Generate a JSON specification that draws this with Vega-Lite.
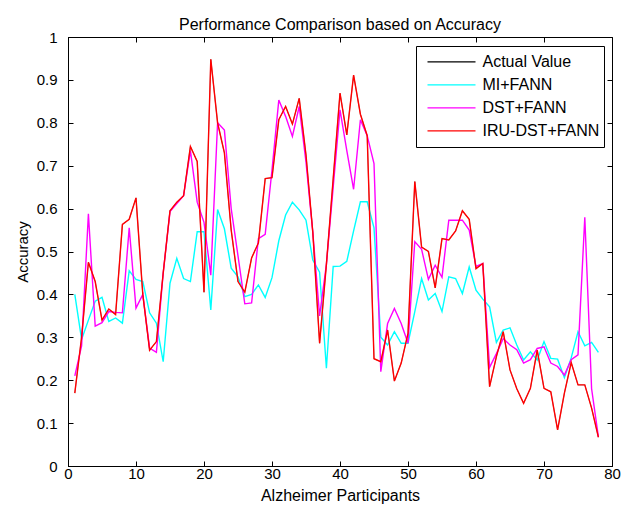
{
"$schema": "https://vega.github.io/schema/vega-lite/v6.json",
"width": 544, "height": 429,
"autosize": "none",
"padding": {"left": 68, "top": 37, "right": 17, "bottom": 44},
"background": "white",
"config": {"view": {"stroke": "black", "strokeWidth": 1}, "font": "Liberation Sans"},
"title": {"text": "Performance Comparison based on Accuracy", "fontSize": 16, "fontWeight": "normal", "font": "Liberation Sans", "color": "black", "anchor": "middle", "baseline": "alphabetic", "offset": 8, "dy": 24},
"data": {"values": [
{"x":1,"s":"Actual Value","y":0.17},{"x":2,"s":"Actual Value","y":0.30},{"x":3,"s":"Actual Value","y":0.475},{"x":4,"s":"Actual Value","y":0.43},{"x":5,"s":"Actual Value","y":0.34},{"x":6,"s":"Actual Value","y":0.366},{"x":7,"s":"Actual Value","y":0.353},{"x":8,"s":"Actual Value","y":0.563},{"x":9,"s":"Actual Value","y":0.575},{"x":10,"s":"Actual Value","y":0.625},
{"x":11,"s":"Actual Value","y":0.40},{"x":12,"s":"Actual Value","y":0.27},{"x":13,"s":"Actual Value","y":0.29},{"x":14,"s":"Actual Value","y":0.45},{"x":15,"s":"Actual Value","y":0.595},{"x":16,"s":"Actual Value","y":0.615},{"x":17,"s":"Actual Value","y":0.63},{"x":18,"s":"Actual Value","y":0.745},{"x":19,"s":"Actual Value","y":0.71},{"x":20,"s":"Actual Value","y":0.405},
{"x":21,"s":"Actual Value","y":0.948},{"x":22,"s":"Actual Value","y":0.80},{"x":23,"s":"Actual Value","y":0.73},{"x":24,"s":"Actual Value","y":0.55},{"x":25,"s":"Actual Value","y":0.43},{"x":26,"s":"Actual Value","y":0.405},{"x":27,"s":"Actual Value","y":0.485},{"x":28,"s":"Actual Value","y":0.52},{"x":29,"s":"Actual Value","y":0.67},{"x":30,"s":"Actual Value","y":0.672},
{"x":31,"s":"Actual Value","y":0.807},{"x":32,"s":"Actual Value","y":0.838},{"x":33,"s":"Actual Value","y":0.797},{"x":34,"s":"Actual Value","y":0.857},{"x":35,"s":"Actual Value","y":0.725},{"x":36,"s":"Actual Value","y":0.545},{"x":37,"s":"Actual Value","y":0.286},{"x":38,"s":"Actual Value","y":0.47},{"x":39,"s":"Actual Value","y":0.67},{"x":40,"s":"Actual Value","y":0.869},
{"x":41,"s":"Actual Value","y":0.772},{"x":42,"s":"Actual Value","y":0.911},{"x":43,"s":"Actual Value","y":0.82},{"x":44,"s":"Actual Value","y":0.77},{"x":45,"s":"Actual Value","y":0.25},{"x":46,"s":"Actual Value","y":0.243},{"x":47,"s":"Actual Value","y":0.317},{"x":48,"s":"Actual Value","y":0.198},{"x":49,"s":"Actual Value","y":0.24},{"x":50,"s":"Actual Value","y":0.309},
{"x":51,"s":"Actual Value","y":0.663},{"x":52,"s":"Actual Value","y":0.51},{"x":53,"s":"Actual Value","y":0.50},{"x":54,"s":"Actual Value","y":0.415},{"x":55,"s":"Actual Value","y":0.53},{"x":56,"s":"Actual Value","y":0.527},{"x":57,"s":"Actual Value","y":0.548},{"x":58,"s":"Actual Value","y":0.595},{"x":59,"s":"Actual Value","y":0.575},{"x":60,"s":"Actual Value","y":0.46},
{"x":61,"s":"Actual Value","y":0.472},{"x":62,"s":"Actual Value","y":0.185},{"x":63,"s":"Actual Value","y":0.255},{"x":64,"s":"Actual Value","y":0.313},{"x":65,"s":"Actual Value","y":0.224},{"x":66,"s":"Actual Value","y":0.18},{"x":67,"s":"Actual Value","y":0.146},{"x":68,"s":"Actual Value","y":0.181},{"x":69,"s":"Actual Value","y":0.27},{"x":70,"s":"Actual Value","y":0.181},
{"x":71,"s":"Actual Value","y":0.173},{"x":72,"s":"Actual Value","y":0.084},{"x":73,"s":"Actual Value","y":0.17},{"x":74,"s":"Actual Value","y":0.241},{"x":75,"s":"Actual Value","y":0.189},{"x":76,"s":"Actual Value","y":0.189},{"x":77,"s":"Actual Value","y":0.135},{"x":78,"s":"Actual Value","y":0.067},

{"x":1,"s":"MI+FANN","y":0.40},{"x":2,"s":"MI+FANN","y":0.295},{"x":3,"s":"MI+FANN","y":0.34},{"x":4,"s":"MI+FANN","y":0.384},{"x":5,"s":"MI+FANN","y":0.393},{"x":6,"s":"MI+FANN","y":0.337},{"x":7,"s":"MI+FANN","y":0.345},{"x":8,"s":"MI+FANN","y":0.333},{"x":9,"s":"MI+FANN","y":0.455},{"x":10,"s":"MI+FANN","y":0.435},
{"x":11,"s":"MI+FANN","y":0.43},{"x":12,"s":"MI+FANN","y":0.357},{"x":13,"s":"MI+FANN","y":0.333},{"x":14,"s":"MI+FANN","y":0.243},{"x":15,"s":"MI+FANN","y":0.426},{"x":16,"s":"MI+FANN","y":0.484},{"x":17,"s":"MI+FANN","y":0.437},{"x":18,"s":"MI+FANN","y":0.43},{"x":19,"s":"MI+FANN","y":0.546},{"x":20,"s":"MI+FANN","y":0.546},
{"x":21,"s":"MI+FANN","y":0.364},{"x":22,"s":"MI+FANN","y":0.598},{"x":23,"s":"MI+FANN","y":0.553},{"x":24,"s":"MI+FANN","y":0.461},{"x":25,"s":"MI+FANN","y":0.441},{"x":26,"s":"MI+FANN","y":0.395},{"x":27,"s":"MI+FANN","y":0.40},{"x":28,"s":"MI+FANN","y":0.422},{"x":29,"s":"MI+FANN","y":0.393},{"x":30,"s":"MI+FANN","y":0.439},
{"x":31,"s":"MI+FANN","y":0.525},{"x":32,"s":"MI+FANN","y":0.585},{"x":33,"s":"MI+FANN","y":0.615},{"x":34,"s":"MI+FANN","y":0.597},{"x":35,"s":"MI+FANN","y":0.573},{"x":36,"s":"MI+FANN","y":0.48},{"x":37,"s":"MI+FANN","y":0.452},{"x":38,"s":"MI+FANN","y":0.228},{"x":39,"s":"MI+FANN","y":0.465},{"x":40,"s":"MI+FANN","y":0.466},
{"x":41,"s":"MI+FANN","y":0.477},{"x":42,"s":"MI+FANN","y":0.548},{"x":43,"s":"MI+FANN","y":0.616},{"x":44,"s":"MI+FANN","y":0.616},{"x":45,"s":"MI+FANN","y":0.555},{"x":46,"s":"MI+FANN","y":0.30},{"x":47,"s":"MI+FANN","y":0.282},{"x":48,"s":"MI+FANN","y":0.313},{"x":49,"s":"MI+FANN","y":0.286},{"x":50,"s":"MI+FANN","y":0.286},
{"x":51,"s":"MI+FANN","y":0.36},{"x":52,"s":"MI+FANN","y":0.437},{"x":53,"s":"MI+FANN","y":0.387},{"x":54,"s":"MI+FANN","y":0.402},{"x":55,"s":"MI+FANN","y":0.36},{"x":56,"s":"MI+FANN","y":0.441},{"x":57,"s":"MI+FANN","y":0.437},{"x":58,"s":"MI+FANN","y":0.402},{"x":59,"s":"MI+FANN","y":0.464},{"x":60,"s":"MI+FANN","y":0.41},
{"x":61,"s":"MI+FANN","y":0.389},{"x":62,"s":"MI+FANN","y":0.371},{"x":63,"s":"MI+FANN","y":0.288},{"x":64,"s":"MI+FANN","y":0.317},{"x":65,"s":"MI+FANN","y":0.322},{"x":66,"s":"MI+FANN","y":0.282},{"x":67,"s":"MI+FANN","y":0.247},{"x":68,"s":"MI+FANN","y":0.266},{"x":69,"s":"MI+FANN","y":0.247},{"x":70,"s":"MI+FANN","y":0.29},
{"x":71,"s":"MI+FANN","y":0.251},{"x":72,"s":"MI+FANN","y":0.249},{"x":73,"s":"MI+FANN","y":0.206},{"x":74,"s":"MI+FANN","y":0.252},{"x":75,"s":"MI+FANN","y":0.313},{"x":76,"s":"MI+FANN","y":0.28},{"x":77,"s":"MI+FANN","y":0.288},{"x":78,"s":"MI+FANN","y":0.265},

{"x":1,"s":"DST+FANN","y":0.21},{"x":2,"s":"DST+FANN","y":0.28},{"x":3,"s":"DST+FANN","y":0.588},{"x":4,"s":"DST+FANN","y":0.326},{"x":5,"s":"DST+FANN","y":0.334},{"x":6,"s":"DST+FANN","y":0.36},{"x":7,"s":"DST+FANN","y":0.358},{"x":8,"s":"DST+FANN","y":0.357},{"x":9,"s":"DST+FANN","y":0.555},{"x":10,"s":"DST+FANN","y":0.368},
{"x":11,"s":"DST+FANN","y":0.40},{"x":12,"s":"DST+FANN","y":0.275},{"x":13,"s":"DST+FANN","y":0.265},{"x":14,"s":"DST+FANN","y":0.45},{"x":15,"s":"DST+FANN","y":0.593},{"x":16,"s":"DST+FANN","y":0.612},{"x":17,"s":"DST+FANN","y":0.63},{"x":18,"s":"DST+FANN","y":0.735},{"x":19,"s":"DST+FANN","y":0.615},{"x":20,"s":"DST+FANN","y":0.568},
{"x":21,"s":"DST+FANN","y":0.445},{"x":22,"s":"DST+FANN","y":0.80},{"x":23,"s":"DST+FANN","y":0.783},{"x":24,"s":"DST+FANN","y":0.60},{"x":25,"s":"DST+FANN","y":0.49},{"x":26,"s":"DST+FANN","y":0.378},{"x":27,"s":"DST+FANN","y":0.38},{"x":28,"s":"DST+FANN","y":0.53},{"x":29,"s":"DST+FANN","y":0.54},{"x":30,"s":"DST+FANN","y":0.69},
{"x":31,"s":"DST+FANN","y":0.853},{"x":32,"s":"DST+FANN","y":0.815},{"x":33,"s":"DST+FANN","y":0.768},{"x":34,"s":"DST+FANN","y":0.838},{"x":35,"s":"DST+FANN","y":0.708},{"x":36,"s":"DST+FANN","y":0.545},{"x":37,"s":"DST+FANN","y":0.35},{"x":38,"s":"DST+FANN","y":0.47},{"x":39,"s":"DST+FANN","y":0.65},{"x":40,"s":"DST+FANN","y":0.83},
{"x":41,"s":"DST+FANN","y":0.735},{"x":42,"s":"DST+FANN","y":0.645},{"x":43,"s":"DST+FANN","y":0.807},{"x":44,"s":"DST+FANN","y":0.77},{"x":45,"s":"DST+FANN","y":0.705},{"x":46,"s":"DST+FANN","y":0.22},{"x":47,"s":"DST+FANN","y":0.332},{"x":48,"s":"DST+FANN","y":0.367},{"x":49,"s":"DST+FANN","y":0.332},{"x":50,"s":"DST+FANN","y":0.286},
{"x":51,"s":"DST+FANN","y":0.523},{"x":52,"s":"DST+FANN","y":0.505},{"x":53,"s":"DST+FANN","y":0.435},{"x":54,"s":"DST+FANN","y":0.468},{"x":55,"s":"DST+FANN","y":0.44},{"x":56,"s":"DST+FANN","y":0.573},{"x":57,"s":"DST+FANN","y":0.573},{"x":58,"s":"DST+FANN","y":0.573},{"x":59,"s":"DST+FANN","y":0.55},{"x":60,"s":"DST+FANN","y":0.465},
{"x":61,"s":"DST+FANN","y":0.472},{"x":62,"s":"DST+FANN","y":0.23},{"x":63,"s":"DST+FANN","y":0.262},{"x":64,"s":"DST+FANN","y":0.297},{"x":65,"s":"DST+FANN","y":0.282},{"x":66,"s":"DST+FANN","y":0.271},{"x":67,"s":"DST+FANN","y":0.24},{"x":68,"s":"DST+FANN","y":0.248},{"x":69,"s":"DST+FANN","y":0.274},{"x":70,"s":"DST+FANN","y":0.278},
{"x":71,"s":"DST+FANN","y":0.24},{"x":72,"s":"DST+FANN","y":0.232},{"x":73,"s":"DST+FANN","y":0.212},{"x":74,"s":"DST+FANN","y":0.248},{"x":75,"s":"DST+FANN","y":0.259},{"x":76,"s":"DST+FANN","y":0.58},{"x":77,"s":"DST+FANN","y":0.18},{"x":78,"s":"DST+FANN","y":0.068},

{"x":1,"s":"IRU-DST+FANN","y":0.17},{"x":2,"s":"IRU-DST+FANN","y":0.30},{"x":3,"s":"IRU-DST+FANN","y":0.475},{"x":4,"s":"IRU-DST+FANN","y":0.43},{"x":5,"s":"IRU-DST+FANN","y":0.34},{"x":6,"s":"IRU-DST+FANN","y":0.366},{"x":7,"s":"IRU-DST+FANN","y":0.353},{"x":8,"s":"IRU-DST+FANN","y":0.563},{"x":9,"s":"IRU-DST+FANN","y":0.575},{"x":10,"s":"IRU-DST+FANN","y":0.625},
{"x":11,"s":"IRU-DST+FANN","y":0.40},{"x":12,"s":"IRU-DST+FANN","y":0.27},{"x":13,"s":"IRU-DST+FANN","y":0.29},{"x":14,"s":"IRU-DST+FANN","y":0.45},{"x":15,"s":"IRU-DST+FANN","y":0.595},{"x":16,"s":"IRU-DST+FANN","y":0.615},{"x":17,"s":"IRU-DST+FANN","y":0.63},{"x":18,"s":"IRU-DST+FANN","y":0.745},{"x":19,"s":"IRU-DST+FANN","y":0.71},{"x":20,"s":"IRU-DST+FANN","y":0.405},
{"x":21,"s":"IRU-DST+FANN","y":0.948},{"x":22,"s":"IRU-DST+FANN","y":0.80},{"x":23,"s":"IRU-DST+FANN","y":0.73},{"x":24,"s":"IRU-DST+FANN","y":0.55},{"x":25,"s":"IRU-DST+FANN","y":0.43},{"x":26,"s":"IRU-DST+FANN","y":0.405},{"x":27,"s":"IRU-DST+FANN","y":0.485},{"x":28,"s":"IRU-DST+FANN","y":0.52},{"x":29,"s":"IRU-DST+FANN","y":0.67},{"x":30,"s":"IRU-DST+FANN","y":0.672},
{"x":31,"s":"IRU-DST+FANN","y":0.807},{"x":32,"s":"IRU-DST+FANN","y":0.838},{"x":33,"s":"IRU-DST+FANN","y":0.797},{"x":34,"s":"IRU-DST+FANN","y":0.857},{"x":35,"s":"IRU-DST+FANN","y":0.725},{"x":36,"s":"IRU-DST+FANN","y":0.545},{"x":37,"s":"IRU-DST+FANN","y":0.286},{"x":38,"s":"IRU-DST+FANN","y":0.47},{"x":39,"s":"IRU-DST+FANN","y":0.67},{"x":40,"s":"IRU-DST+FANN","y":0.869},
{"x":41,"s":"IRU-DST+FANN","y":0.772},{"x":42,"s":"IRU-DST+FANN","y":0.911},{"x":43,"s":"IRU-DST+FANN","y":0.82},{"x":44,"s":"IRU-DST+FANN","y":0.77},{"x":45,"s":"IRU-DST+FANN","y":0.25},{"x":46,"s":"IRU-DST+FANN","y":0.243},{"x":47,"s":"IRU-DST+FANN","y":0.317},{"x":48,"s":"IRU-DST+FANN","y":0.198},{"x":49,"s":"IRU-DST+FANN","y":0.24},{"x":50,"s":"IRU-DST+FANN","y":0.309},
{"x":51,"s":"IRU-DST+FANN","y":0.663},{"x":52,"s":"IRU-DST+FANN","y":0.51},{"x":53,"s":"IRU-DST+FANN","y":0.50},{"x":54,"s":"IRU-DST+FANN","y":0.415},{"x":55,"s":"IRU-DST+FANN","y":0.53},{"x":56,"s":"IRU-DST+FANN","y":0.527},{"x":57,"s":"IRU-DST+FANN","y":0.548},{"x":58,"s":"IRU-DST+FANN","y":0.595},{"x":59,"s":"IRU-DST+FANN","y":0.575},{"x":60,"s":"IRU-DST+FANN","y":0.46},
{"x":61,"s":"IRU-DST+FANN","y":0.472},{"x":62,"s":"IRU-DST+FANN","y":0.185},{"x":63,"s":"IRU-DST+FANN","y":0.255},{"x":64,"s":"IRU-DST+FANN","y":0.313},{"x":65,"s":"IRU-DST+FANN","y":0.224},{"x":66,"s":"IRU-DST+FANN","y":0.18},{"x":67,"s":"IRU-DST+FANN","y":0.146},{"x":68,"s":"IRU-DST+FANN","y":0.181},{"x":69,"s":"IRU-DST+FANN","y":0.27},{"x":70,"s":"IRU-DST+FANN","y":0.181},
{"x":71,"s":"IRU-DST+FANN","y":0.173},{"x":72,"s":"IRU-DST+FANN","y":0.084},{"x":73,"s":"IRU-DST+FANN","y":0.17},{"x":74,"s":"IRU-DST+FANN","y":0.241},{"x":75,"s":"IRU-DST+FANN","y":0.189},{"x":76,"s":"IRU-DST+FANN","y":0.189},{"x":77,"s":"IRU-DST+FANN","y":0.135},{"x":78,"s":"IRU-DST+FANN","y":0.067}
]},
"layer": [
{
"transform": [{"filter": {"field": "s", "equal": "Actual Value"}}],
"mark": {"type": "line", "strokeWidth": 0.4},
"encoding": {
"x": {"field": "x", "type": "quantitative", "scale": {"domain": [0, 80], "nice": false},
 "axis": {"orient": "bottom", "values": [0,10,20,30,40,50,60,70,80], "format": "d", "grid": false, "tickSize": -5, "tickColor": "black", "domainColor": "black", "labelColor": "black", "labelFont": "Liberation Sans", "labelFontSize": 15, "labelPadding": 5, "labelFlush": false, "labelOverlap": false,
  "title": "Alzheimer Participants", "titleFont": "Liberation Sans", "titleFontSize": 16, "titleFontWeight": "normal", "titleColor": "black", "titlePadding": 6}},
"y": {"field": "y", "type": "quantitative", "scale": {"domain": [0, 1], "nice": false},
 "axis": {"orient": "left", "values": [0,0.1,0.2,0.3,0.4,0.5,0.6,0.7,0.8,0.9,1], "format": ".1~f", "grid": false, "tickSize": -5, "tickColor": "black", "domainColor": "black", "labelColor": "black", "labelFont": "Liberation Sans", "labelFontSize": 15, "labelPadding": 16, "labelOverlap": false,
  "title": "Accuracy", "titleFont": "Liberation Sans", "titleFontSize": 15, "titleFontWeight": "normal", "titleColor": "black", "titlePadding": 6}},
"color": {"field": "s", "type": "nominal",
 "scale": {"domain": ["Actual Value", "MI+FANN", "DST+FANN", "IRU-DST+FANN"], "range": ["#000000", "#00FFFF", "#FF00FF", "#FF0000"]},
 "legend": {"title": null, "orient": "none", "legendX": 348, "legendY": 9, "fillColor": "white", "strokeColor": "black", "cornerRadius": 0, "padding": 4.5, "symbolType": "stroke", "symbolSize": 2304, "symbolStrokeWidth": 1.3, "symbolOffset": 6, "labelOffset": 6, "labelFontSize": 16, "labelFont": "Liberation Sans", "labelColor": "black", "clipHeight": 22.8, "rowPadding": 0}}
}
},
{
"transform": [{"filter": {"not": {"field": "s", "equal": "Actual Value"}}}],
"mark": {"type": "line", "strokeWidth": 1.4},
"encoding": {
"x": {"field": "x", "type": "quantitative", "axis": null},
"y": {"field": "y", "type": "quantitative", "axis": null},
"color": {"field": "s", "type": "nominal"}
}
},
{
"mark": {"type": "point", "opacity": 0},
"encoding": {
"x": {"field": "x", "type": "quantitative", "axis": {"orient": "top", "values": [0,10,20,30,40,50,60,70,80], "labels": false, "domain": false, "grid": false, "tickSize": -5, "tickColor": "black", "title": null}},
"y": {"field": "y", "type": "quantitative", "axis": {"orient": "right", "values": [0,0.1,0.2,0.3,0.4,0.5,0.6,0.7,0.8,0.9,1], "labels": false, "domain": false, "grid": false, "tickSize": -5, "tickColor": "black", "title": null}}
}
}
],
"resolve": {"axis": {"x": "independent", "y": "independent"}}
}
